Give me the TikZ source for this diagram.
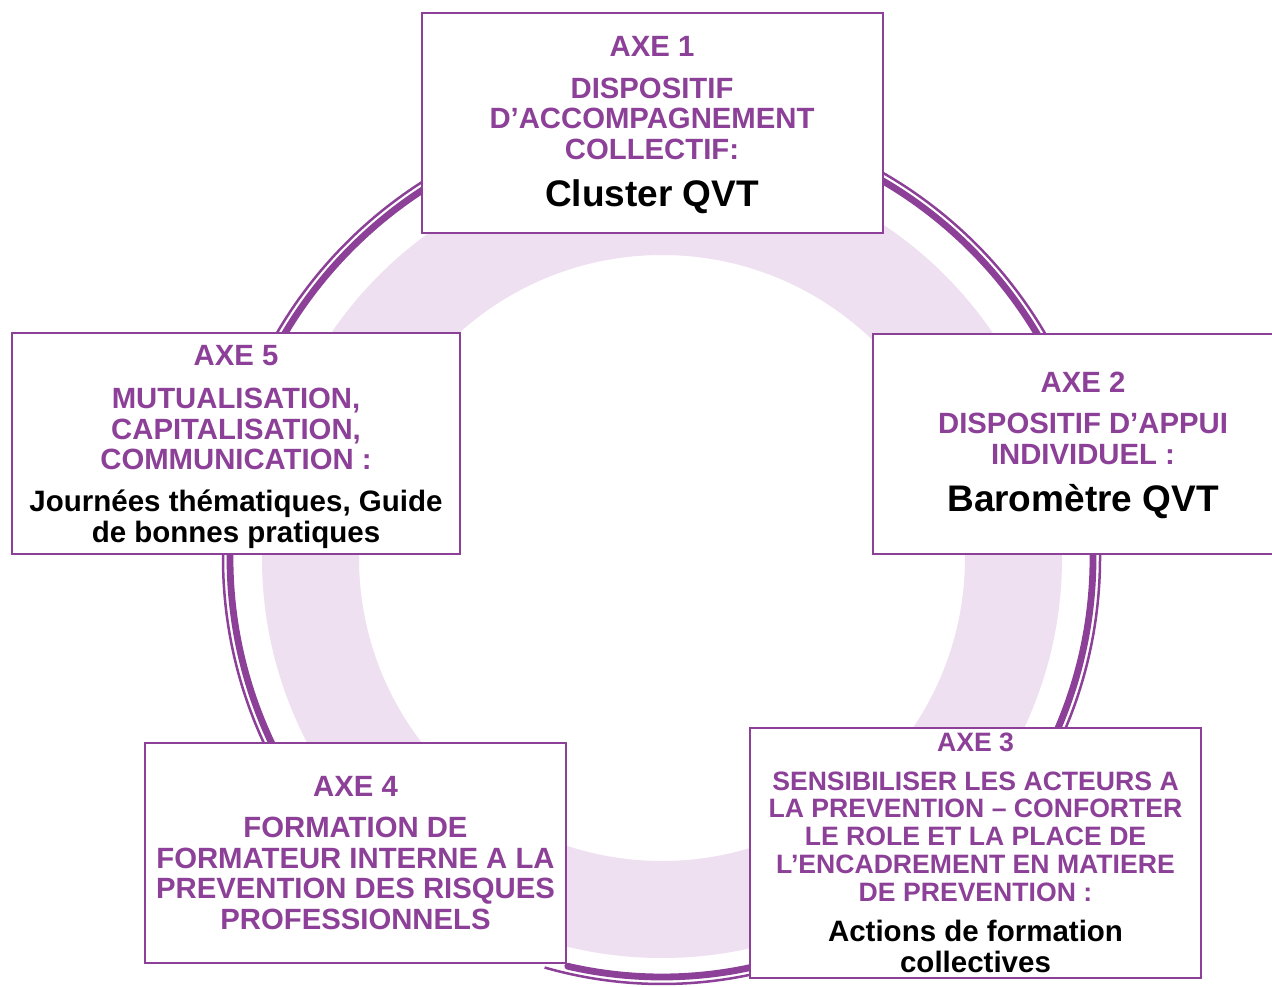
\documentclass[tikz,border=0pt]{standalone}
\usepackage{fontspec}
\setmainfont{Liberation Sans}
\usepackage{tikz}

\definecolor{axepurple}{RGB}{140,64,152}
\definecolor{ringlilac}{RGB}{238,223,241}

\newcommand{\axefont}{\fontsize{29.3}{30.5}\selectfont\bfseries}
\newcommand{\smallaxefont}{\fontsize{26.6}{27.8}\selectfont\bfseries}
\newcommand{\notefont}{\fontsize{29.5}{30.5}\selectfont\bfseries}
\newcommand{\bignotefont}{\fontsize{37}{40}\selectfont\bfseries}

\tikzset{
	axebox/.style={draw=axepurple, line width=2.4pt, fill=white, inner sep=0pt},
	axetext/.style={text=axepurple, align=center, inner sep=0pt, font=\axefont},
	notetext/.style={text=black, align=center, inner sep=0pt, font=\notefont},
	arcthick/.style={draw=axepurple, line width=6.8pt, line cap=round},
	arcthin/.style={draw=axepurple, line width=2.5pt}
}

\begin{document}
\begin{tikzpicture}[x=1pt,y=-1pt]
		\clip (0,0) rectangle (1272,987);
		\fill[white] (0,0) rectangle (1272,987);
		
		% ring
		\coordinate (c) at (662,558);
		\fill[ringlilac, even odd rule] (c) circle (400pt) (c) circle (303pt);
		
		% arcs between the boxes
		\draw[arcthick] (c) ++(61:437pt) arc[start angle=61, end angle=29, radius=437pt];
		\draw[arcthin] (c) ++(61:444pt) arc[start angle=61, end angle=29, radius=444pt];
		
		\draw[arcthick] (c) ++(2:431pt) arc[start angle=2, end angle=-24, radius=431pt];
		\draw[arcthin] (c) ++(2:438pt) arc[start angle=2, end angle=-24, radius=438pt];
		
		\draw[arcthick] (c) ++(-103:419pt) arc[start angle=-103, end angle=-77.5, radius=419pt];
		\draw[arcthin] (c) ++(-106:426pt) arc[start angle=-106, end angle=-77.5, radius=426pt];
		
		\draw[arcthick] (c) ++(207:432pt) arc[start angle=207, end angle=178, radius=432pt];
		\draw[arcthin] (c) ++(207:439pt) arc[start angle=207, end angle=178, radius=439pt];
		
		\draw[arcthick] (c) ++(151:439pt) arc[start angle=151, end angle=122, radius=439pt];
		\draw[arcthin] (c) ++(151:446pt) arc[start angle=151, end angle=122, radius=446pt];
		
		% boxes
		\node[axebox, minimum width=461pt, minimum height=220pt] (axe1) at (652.5,123) {};
		\node[axebox, minimum width=420pt, minimum height=220pt] (axe2) at (1083,444) {};
		\node[axebox, minimum width=451pt, minimum height=250pt] (axe3) at (975.5,853) {};
		\node[axebox, minimum width=421pt, minimum height=220pt] (axe4) at (355.5,853) {};
		\node[axebox, minimum width=448pt, minimum height=221pt] (axe5) at (236,443.5) {};
		
		% axe 1
		\node[axetext] (axe1-head) at (652,46) {AXE 1};
		\node[axetext] (axe1-body) at (652,118.5) {DISPOSITIF\\D’ACCOMPAGNEMENT\\COLLECTIF:};
		\node[notetext, font=\bignotefont] (axe1-note) at (652,197) {Cluster QVT};
		
		% axe 2
		\node[axetext] (axe2-head) at (1083,382) {AXE 2};
		\node[axetext] (axe2-body) at (1083,439) {DISPOSITIF D’APPUI\\INDIVIDUEL :};
		\node[notetext, font=\bignotefont] (axe2-note) at (1083,502) {Baromètre QVT};
		
		% axe 3
		\node[axetext, font=\smallaxefont] (axe3-head) at (975.5,742) {AXE 3};
		\node[axetext, font=\smallaxefont] (axe3-body) at (975.5,836.5) {SENSIBILISER LES ACTEURS A\\LA PREVENTION – CONFORTER\\LE ROLE ET LA PLACE DE\\L’ENCADREMENT EN MATIERE\\DE PREVENTION :};
		\node[notetext] (axe3-note) at (975.5,946.5) {Actions de formation\\collectives};
		
		% axe 4
		\node[axetext] (axe4-head) at (355.5,786) {AXE 4};
		\node[axetext] (axe4-body) at (355.5,873.5) {FORMATION DE\\FORMATEUR INTERNE A LA\\PREVENTION DES RISQUES\\PROFESSIONNELS};
		
		% axe 5
		\node[axetext] (axe5-head) at (236,356) {AXE 5};
		\node[axetext] (axe5-body) at (236,429) {MUTUALISATION,\\CAPITALISATION,\\COMMUNICATION :};
		\node[notetext] (axe5-note) at (236,519) {Journées thématiques, Guide\\de bonnes pratiques};
	\end{tikzpicture}
\end{document}
